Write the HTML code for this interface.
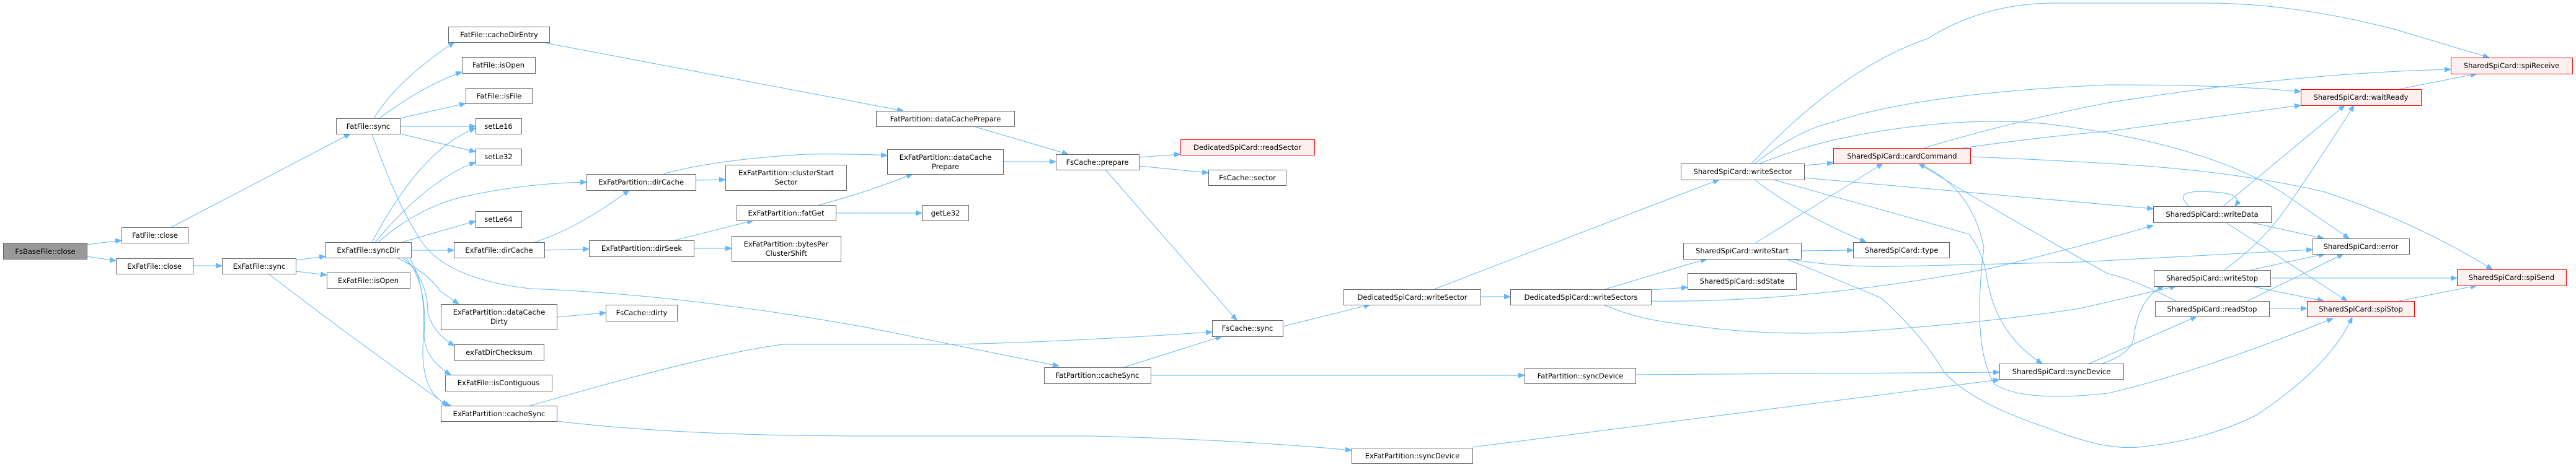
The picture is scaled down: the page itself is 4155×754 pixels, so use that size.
<!DOCTYPE html>
<html><head><meta charset="utf-8"><style>
html,body{margin:0;padding:0;background:#fff;width:4155px;height:754px;overflow:hidden}
svg{display:block}
text{font-family:"DejaVu Sans","Liberation Sans",sans-serif;font-size:11.5px;fill:#000;text-anchor:middle}
.n{fill:#fff;stroke:#666;stroke-width:1}
.r{fill:#fff0f0;stroke:#ff0000;stroke-width:1}
.g{fill:#999;stroke:#666;stroke-width:1}
path{fill:none;stroke:#63b8ff;stroke-width:1;marker-end:url(#a)}
</style></head><body>
<svg width="4155" height="754" viewBox="0 0 4155 754" xmlns="http://www.w3.org/2000/svg">
<defs><marker id="a" markerWidth="10" markerHeight="8" refX="10" refY="4" orient="auto" markerUnits="userSpaceOnUse"><path d="M0,0 L10,4 L0,8 z" style="fill:#63b8ff;stroke:#63b8ff;marker-end:none"/></marker></defs>
<!-- edges -->
<path d="M140,395 L196,388"/>
<path d="M140,414 L187,421"/>
<path d="M276,367 L565,216"/>
<path d="M311,429 L358,429"/>
<path d="M477,420 L525,414"/>
<path d="M477,438 L527,444"/>
<path d="M433,442 Q560,540 700,639 L722,655"/>
<path d="M603,191 Q640,130 733,68"/>
<path d="M612,191 Q680,140 745,116"/>
<path d="M645,191 L751,167"/>
<path d="M645,204 L767,204"/>
<path d="M645,216 L767,245"/>
<path d="M600,216 Q640,330 680,390 Q720,450 855,466 Q1100,475 1400,529 L1708,591"/>
<path d="M600,391 Q680,240 767,207"/>
<path d="M605,391 Q690,290 767,262"/>
<path d="M610,391 Q680,330 760,315 Q850,296 946,294"/>
<path d="M648,391 L767,357"/>
<path d="M663,404 L732,404"/>
<path d="M640,416 Q690,440 710,470 L740,491"/>
<path d="M650,416 Q690,450 690,505 Q700,540 733,558"/>
<path d="M655,416 Q690,460 684,540 Q685,580 727,605"/>
<path d="M660,416 Q690,460 682,560 Q680,640 727,655"/>
<path d="M898,512 L977,505"/>
<path d="M862,391 Q930,370 1015,307"/>
<path d="M878,404 L950,402"/>
<path d="M1088,388 L1215,356"/>
<path d="M1119,401 L1180,401"/>
<path d="M1122,291 L1170,290"/>
<path d="M1070,281 Q1150,258 1300,249 Q1380,248 1431,251"/>
<path d="M1321,331 Q1400,310 1472,281"/>
<path d="M1348,344 L1487,344"/>
<path d="M873,68 L1457,179"/>
<path d="M1570,204 L1723,249"/>
<path d="M1618,261 L1703,261"/>
<path d="M1837,254 L1904,249"/>
<path d="M1837,268 L1949,279"/>
<path d="M1783,274 L1995,517"/>
<path d="M855,655 Q1150,570 1263,556 L1535,556 Q1700,553 1955,536"/>
<path d="M1813,593 L1971,543"/>
<path d="M1856,606 L2459,606"/>
<path d="M898,680 Q1100,704 1400,704 L1759,704 Q2000,710 2180,727"/>
<path d="M2069,527 L2210,492"/>
<path d="M2388,479 L2436,479"/>
<path d="M2313,467 L2773,290"/>
<path d="M2589,467 L2753,418"/>
<path d="M2663,468 L2722,464"/>
<path d="M2663,486 Q2900,490 3212,433 Q3350,400 3473,364"/>
<path d="M2586,492 Q2640,515 2702,522 Q2850,545 3000,535 Q3200,522 3355,498 L3510,462"/>
<path d="M2638,605 L3225,601"/>
<path d="M2375,722 L3225,613"/>
<path d="M2910,267 L2957,263"/>
<path d="M2825,264 Q2970,110 3110,62 Q3200,5 3314,5 L3559,5 Q3700,5 3865,48 L4015,93"/>
<path d="M2830,264 Q2900,210 2957,197 Q3100,150 3400,137 Q3600,137 3711,148"/>
<path d="M2838,264 Q2900,240 2957,226 Q3150,185 3300,200 Q3550,230 3680,310 L3789,385"/>
<path d="M2910,287 L3473,337"/>
<path d="M2830,290 Q2900,345 3010,391"/>
<path d="M2860,290 L3176,378 Q3200,410 3205,450 Q3220,540 3294,587"/>
<path d="M2881,418 Q2960,450 3034,481 Q3100,540 3136,601 Q3180,650 3300,690 Q3400,730 3457,721 Q3560,710 3640,670 Q3760,590 3794,512"/>
<path d="M2832,392 L3037,264"/>
<path d="M2905,405 L2989,404"/>
<path d="M2886,418 Q2960,432 3059,430 L3355,423 L3730,403"/>
<path d="M3103,239 Q3250,195 3400,166 Q3700,118 3953,112"/>
<path d="M3166,239 Q3300,220 3400,212 L3711,170"/>
<path d="M3178,253 Q3300,258 3400,264 Q3600,275 3750,310 Q3900,360 4020,435"/>
<path d="M3510,486 Q3440,450 3400,442 Q3200,330 3095,264"/>
<path d="M3093,264 Q3180,300 3200,400 Q3180,560 3217,620 Q3263,650 3400,635 Q3550,600 3763,514"/>
<path d="M3391,587 Q3440,570 3442,543 Q3450,480 3490,462"/>
<path d="M3370,587 L3543,511"/>
<path d="M3531,333 Q3500,305 3569,310 Q3620,312 3605,333"/>
<path d="M3586,333 L3782,170"/>
<path d="M3630,359 L3748,385"/>
<path d="M3590,359 L3786,486"/>
<path d="M3588,436 Q3650,390 3687,337 Q3740,260 3797,170"/>
<path d="M3630,436 L3750,410"/>
<path d="M3662,449 L3963,449"/>
<path d="M3630,462 L3748,486"/>
<path d="M3625,486 L3780,410"/>
<path d="M3660,498 L3721,498"/>
<path d="M3870,144 L3995,119"/>
<path d="M3870,486 L3995,461"/>
<!-- nodes -->
<g>
<rect class="g" x="5.5" y="392.5" width="135" height="26"/><text x="73" y="410">FsBaseFile::close</text>
<rect class="n" x="196.5" y="367.5" width="107" height="25"/><text x="250" y="384">FatFile::close</text>
<rect class="n" x="187.5" y="417.5" width="124" height="25"/><text x="249" y="434">ExFatFile::close</text>
<rect class="n" x="358.5" y="417.5" width="119" height="25"/><text x="418" y="434">ExFatFile::sync</text>
<rect class="n" x="542.5" y="191.5" width="103" height="25"/><text x="594" y="208">FatFile::sync</text>
<rect class="n" x="525.5" y="391.5" width="138" height="25"/><text x="594" y="408">ExFatFile::syncDir</text>
<rect class="n" x="527.5" y="440.5" width="134" height="25"/><text x="594" y="457">ExFatFile::isOpen</text>
<rect class="n" x="723.5" y="43.5" width="163" height="25"/><text x="805" y="60">FatFile::cacheDirEntry</text>
<rect class="n" x="745.5" y="92.5" width="118" height="26"/><text x="804" y="109">FatFile::isOpen</text>
<rect class="n" x="751.5" y="142.5" width="107" height="25"/><text x="805" y="159">FatFile::isFile</text>
<rect class="n" x="767.5" y="191.5" width="74" height="25"/><text x="804" y="208">setLe16</text>
<rect class="n" x="767.5" y="240.5" width="74" height="26"/><text x="804" y="257">setLe32</text>
<rect class="n" x="946.5" y="281.5" width="176" height="26"/><text x="1034" y="298">ExFatPartition::dirCache</text>
<rect class="n" x="1170.5" y="266.5" width="195" height="41"/><text x="1268" y="283">ExFatPartition::clusterStart</text><text x="1268" y="298">Sector</text>
<rect class="n" x="1188.5" y="331.5" width="160" height="25"/><text x="1268" y="348">ExFatPartition::fatGet</text>
<rect class="n" x="767.5" y="341.5" width="74" height="26"/><text x="804" y="358">setLe64</text>
<rect class="n" x="732.5" y="391.5" width="146" height="25"/><text x="805" y="408">ExFatFile::dirCache</text>
<rect class="n" x="950.5" y="388.5" width="169" height="26"/><text x="1035" y="405">ExFatPartition::dirSeek</text>
<rect class="n" x="1180.5" y="381.5" width="176" height="41"/><text x="1268" y="398">ExFatPartition::bytesPer</text><text x="1268" y="413">ClusterShift</text>
<rect class="n" x="711.5" y="491.5" width="187" height="41"/><text x="805" y="508">ExFatPartition::dataCache</text><text x="805" y="523">Dirty</text>
<rect class="n" x="977.5" y="492.5" width="115" height="26"/><text x="1035" y="509">FsCache::dirty</text>
<rect class="n" x="733.5" y="556.5" width="144" height="26"/><text x="805" y="573">exFatDirChecksum</text>
<rect class="n" x="718.5" y="605.5" width="172" height="26"/><text x="804" y="622">ExFatFile::isContiguous</text>
<rect class="n" x="711.5" y="655.5" width="187" height="25"/><text x="805" y="672">ExFatPartition::cacheSync</text>
<rect class="n" x="1413.5" y="179.5" width="223" height="25"/><text x="1525" y="196">FatPartition::dataCachePrepare</text>
<rect class="n" x="1431.5" y="241.5" width="187" height="40"/><text x="1525" y="258">ExFatPartition::dataCache</text><text x="1525" y="273">Prepare</text>
<rect class="n" x="1487.5" y="331.5" width="75" height="25"/><text x="1525" y="348">getLe32</text>
<rect class="n" x="1703.5" y="249.5" width="134" height="25"/><text x="1770" y="266">FsCache::prepare</text>
<rect class="r" x="1904.5" y="225.5" width="216" height="25"/><text x="2012" y="242">DedicatedSpiCard::readSector</text>
<rect class="n" x="1949.5" y="274.5" width="125" height="25"/><text x="2012" y="291">FsCache::sector</text>
<rect class="n" x="1955.5" y="517.5" width="114" height="26"/><text x="2012" y="534">FsCache::sync</text>
<rect class="n" x="1684.5" y="593.5" width="172" height="26"/><text x="1770" y="610">FatPartition::cacheSync</text>
<rect class="n" x="2167.5" y="467.5" width="221" height="25"/><text x="2278" y="484">DedicatedSpiCard::writeSector</text>
<rect class="n" x="2436.5" y="467.5" width="227" height="25"/><text x="2550" y="484">DedicatedSpiCard::writeSectors</text>
<rect class="n" x="2459.5" y="594.5" width="179" height="25"/><text x="2549" y="611">FatPartition::syncDevice</text>
<rect class="n" x="2180.5" y="723.5" width="195" height="25"/><text x="2278" y="740">ExFatPartition::syncDevice</text>
<rect class="n" x="2711.5" y="264.5" width="199" height="26"/><text x="2811" y="281">SharedSpiCard::writeSector</text>
<rect class="r" x="2957.5" y="239.5" width="221" height="25"/><text x="3068" y="256">SharedSpiCard::cardCommand</text>
<rect class="n" x="2715.5" y="392.5" width="190" height="26"/><text x="2810" y="409">SharedSpiCard::writeStart</text>
<rect class="n" x="2989.5" y="391.5" width="155" height="25"/><text x="3067" y="408">SharedSpiCard::type</text>
<rect class="n" x="2722.5" y="441.5" width="175" height="26"/><text x="2810" y="458">SharedSpiCard::sdState</text>
<rect class="n" x="3225.5" y="587.5" width="200" height="25"/><text x="3325" y="604">SharedSpiCard::syncDevice</text>
<rect class="r" x="3953.5" y="93.5" width="196" height="26"/><text x="4051" y="110">SharedSpiCard::spiReceive</text>
<rect class="r" x="3711.5" y="144.5" width="194" height="26"/><text x="3808" y="161">SharedSpiCard::waitReady</text>
<rect class="n" x="3473.5" y="333.5" width="190" height="26"/><text x="3568" y="350">SharedSpiCard::writeData</text>
<rect class="n" x="3730.5" y="385.5" width="156" height="25"/><text x="3808" y="402">SharedSpiCard::error</text>
<rect class="n" x="3474.5" y="436.5" width="188" height="26"/><text x="3568" y="453">SharedSpiCard::writeStop</text>
<rect class="r" x="3963.5" y="435.5" width="176" height="26"/><text x="4051" y="452">SharedSpiCard::spiSend</text>
<rect class="n" x="3476.5" y="486.5" width="184" height="25"/><text x="3568" y="503">SharedSpiCard::readStop</text>
<rect class="r" x="3721.5" y="486.5" width="173" height="25"/><text x="3808" y="503">SharedSpiCard::spiStop</text>
</g>
</svg>
</body></html>
